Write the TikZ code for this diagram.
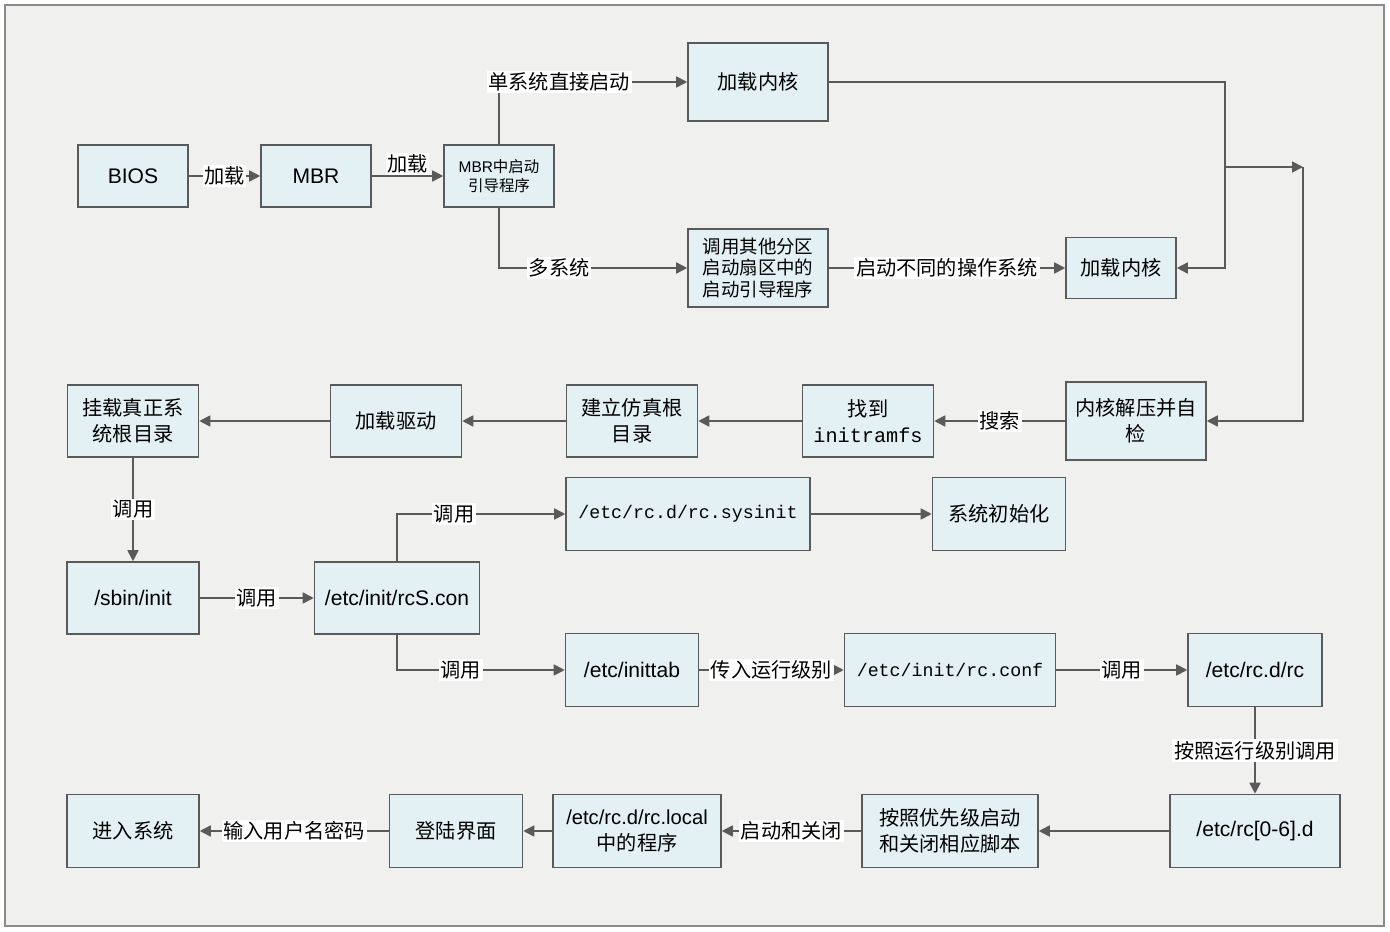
\documentclass[tikz,border=0pt]{standalone}
\usepackage{fontspec}
\setmainfont{Noto Sans CJK SC}
\newfontfamily\latfont{Liberation Sans}
\newfontfamily\monofont{Liberation Mono}
\usetikzlibrary{arrows.meta,positioning}
\definecolor{bootfill}{HTML}{E3F0F4}
\definecolor{bootline}{HTML}{5A5A5A}
\definecolor{bootbg}{HTML}{F0F0EE}
\tikzset{
  stage/.style={rectangle, draw=bootline, line width=0.9pt, fill=bootfill, minimum width=2.64cm, minimum height=1.46cm, align=center, inner sep=2pt, font=\fontsize{11.5}{14.8}\selectfont},
  tag/.style={fill=white, inner sep=1pt, font=\fontsize{11.5}{13}\selectfont},
  flow/.style={draw=bootline, line width=1pt, -{Triangle[length=2.2mm,width=2.2mm]}},
  latin/.style={font=\latfont\fontsize{12}{14.8}\selectfont},
  mono/.style={font=\monofont\fontsize{10.4}{14.8}\selectfont},
}
\begin{document}
\begin{tikzpicture}[x=0.02cm,y=-0.02cm]
  \fill[white] (0,0) rectangle (1390,932);
  \draw[bootline!70, fill=bootbg, line width=1pt] (5,5) rectangle (1384,926);

  \node[stage, latin, minimum width=2.2cm, minimum height=1.24cm] (bios) at (133,176) {BIOS};
  \node[stage, latin, minimum width=2.2cm, minimum height=1.24cm] (mbr) at (316,176) {MBR};
  \node[stage, minimum width=2.2cm, minimum height=1.24cm, font=\fontsize{8.8}{11}\selectfont] (mbrboot) at (499,176) {{\latfont MBR}中启动\\引导程序};
  \node[stage, minimum width=2.8cm, minimum height=1.56cm] (kernA) at (758,82) {加载内核};
  \node[stage, minimum width=2.8cm, minimum height=1.56cm, font=\fontsize{10.5}{12.2}\selectfont] (other) at (758,268) {调用其他分区\\启动扇区中的\\启动引导程序};
  \node[stage, minimum width=2.2cm, minimum height=1.22cm] (kernB) at (1121,268) {加载内核};

  \node[stage, minimum width=2.8cm, minimum height=1.56cm] (unzip) at (1136,421) {内核解压并自\\检};
  \node[stage, minimum width=2.62cm, minimum height=1.44cm] (find) at (868,421) {找到\\{\monofont initramfs}};
  \node[stage, minimum width=2.62cm, minimum height=1.44cm] (fake) at (632,421) {建立仿真根\\目录};
  \node[stage, minimum width=2.62cm, minimum height=1.44cm] (driver) at (396,421) {加载驱动};
  \node[stage, minimum width=2.62cm, minimum height=1.44cm] (mount) at (133,421) {挂载真正系\\统根目录};

  \node[stage, latin, minimum height=1.44cm] (sbin) at (133,598) {/sbin/init};
  \node[stage, latin, minimum width=3.3cm, minimum height=1.44cm] (rcs) at (397,598) {/etc/init/rcS.con};
  \node[stage, mono, minimum width=4.88cm] (sysinit) at (688,514) {/etc/rc.d/rc.sysinit};
  \node[stage, minimum width=2.66cm] (sysini) at (999,514) {系统初始化};
  \node[stage, latin, minimum width=2.66cm] (inittab) at (632,670) {/etc/inittab};
  \node[stage, mono, minimum width=4.22cm] (rcconf) at (950,670) {/etc/init/rc.conf};
  \node[stage, latin, minimum width=2.68cm] (rcd) at (1255,670) {/etc/rc.d/rc};

  \node[stage, latin, minimum width=3.4cm] (rcn) at (1255,831) {/etc/rc[0-6].d};
  \node[stage, minimum width=3.52cm] (prio) at (950,831) {按照优先级启动\\和关闭相应脚本};
  \node[stage, minimum width=3.36cm] (local) at (637,831) {{\latfont /etc/rc.d/rc.local}\\中的程序};
  \node[stage, minimum width=2.66cm] (login) at (456,831) {登陆界面};
  \node[stage] (enter) at (133,831) {进入系统};

  \coordinate (join) at (1225,167);
  \coordinate (turn) at (1303,167);

  \draw[flow] (bios) -- node[tag] {加载} (mbr);
  \draw[flow] (mbr) -- node[tag, above=0pt] {加载} (mbrboot);
  \draw[flow] (mbrboot.north) |- node[tag, pos=0.66] {单系统直接启动} (kernA.west);
  \draw[flow] (mbrboot.south) |- node[tag, pos=0.66] {多系统} (other.west);
  \draw[flow] (other) -- node[tag] {启动不同的操作系统} (kernB);
  \draw[flow] (kernA.east) -| (join) |- (kernB.east);
  \draw[flow] (join) -- (turn);
  \draw[flow] (turn) |- (unzip.east);
  \draw[flow] (unzip) -- node[tag] {搜索} (find);
  \draw[flow] (find) -- (fake);
  \draw[flow] (fake) -- (driver);
  \draw[flow] (driver) -- (mount);
  \draw[flow] (mount) -- node[tag] {调用} (sbin);
  \draw[flow] (sbin) -- node[tag] {调用} (rcs);
  \draw[flow] (rcs.north) |- node[tag, pos=0.67] {调用} (sysinit.west);
  \draw[flow] (sysinit) -- (sysini);
  \draw[flow] (rcs.south) |- node[tag, pos=0.69] {调用} (inittab.west);
  \draw[flow] (inittab) -- node[tag] {传入运行级别} (rcconf);
  \draw[flow] (rcconf) -- node[tag] {调用} (rcd);
  \draw[flow] (rcd) -- node[tag] {按照运行级别调用} (rcn);
  \draw[flow] (rcn) -- (prio);
  \draw[flow] (prio) -- node[tag] {启动和关闭} (local);
  \draw[flow] (local) -- (login);
  \draw[flow] (login) -- node[tag] {输入用户名密码} (enter);
\end{tikzpicture}
\end{document}
